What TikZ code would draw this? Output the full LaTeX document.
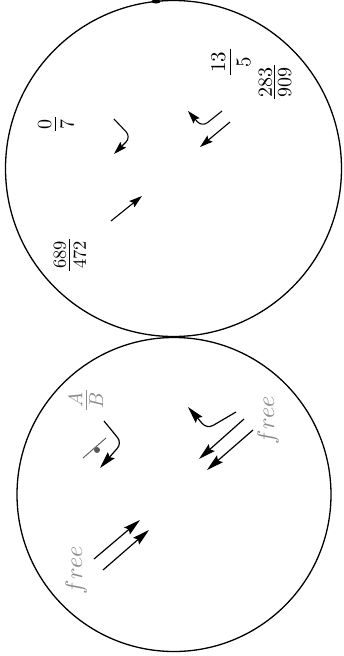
\documentclass[tikz,border=0pt]{standalone}
\usetikzlibrary{arrows.meta}
\renewcommand\arraystretch{0}
\setlength\arrayrulewidth{0.6pt}
\newcommand\stfr[3]{\begin{tabular}{@{\hspace{1pt}}c@{\hspace{1pt}}}\rule[-#1]{0pt}{7pt}#2\\\hline\rule{0pt}{\dimexpr6.6pt+#1\relax}#3\end{tabular}}
\begin{document}
\begin{tikzpicture}[x=1pt,y=-1pt,
  circ/.style={line width=1.3pt},
  arrA/.style={line width=1.1pt,-{Stealth[length=13pt,width=8pt,inset=2pt]}},
  arrB/.style={line width=1.2pt,-{Stealth[length=17pt,width=9pt,inset=2.5pt]}},
  kink/.style={rounded corners=7pt},
  frac/.style={rotate=90,inner sep=0pt},
  lab/.style={rotate=90,inner sep=0pt,text=black!45}]
\useasboundingbox (0,0) rectangle (344,656);
% top circle
\node[circ,draw,circle,minimum size=336pt,inner sep=0pt] (C1) at (173.5,168.5) {};
\fill (156,1.5) ellipse (4.5pt and 2pt);
\node[frac,scale=2.0] (f07) at (56,124) {\stfr{2pt}{0}{7}};
\node[frac,scale=2.1] (f135) at (231,62) {\stfr{2.4pt}{13}{5}};
\node[frac,scale=2.0] (f283) at (275,82) {\stfr{1.2pt}{283}{909}};
\node[frac,scale=1.85] (f689) at (70,255) {\stfr{1.8pt}{689}{472}};
\coordinate (a1s) at (111,221); \coordinate (a1e) at (142,196);
\draw[arrA] (a1s) -- (a1e);
\coordinate (a2s) at (114,119); \coordinate (a2c) at (131,137); \coordinate (a2e) at (114,154);
\draw[arrA,kink] (a2s) -- (a2c) -- (a2e);
\coordinate (a3s) at (222,111); \coordinate (a3c) at (202,127); \coordinate (a3e) at (188,111);
\draw[arrA,kink] (a3s) -- (a3c) -- (a3e);
\coordinate (a4s) at (230,122); \coordinate (a4e) at (200,147);
\draw[arrA] (a4s) -- (a4e);
% bottom circle
\node[circ,draw,circle,minimum size=314pt,inner sep=0pt] (C2) at (174,494.5) {};
\node[lab,scale=2.0] (fAB) at (86,400) {\stfr{1.6pt}{$A$}{$B$}};
\node[lab,scale=2.4] (free1) at (268,420) {$free$};
\node[lab,scale=2.4] (free2) at (76,570) {$free$};
\coordinate (d1) at (83,458); \coordinate (d2) at (106,438);
\draw[line width=0.9pt,black!65] (d1) -- (d2);
\fill[black!65] (97,450) circle (3pt);
\coordinate (b1s) at (104,421); \coordinate (b1c) at (122,443); \coordinate (b1e) at (100,468);
\draw[arrB,kink] (b1s) -- (b1c) -- (b1e);
\coordinate (b2s) at (236,412); \coordinate (b2c) at (207,429); \coordinate (b2e) at (188,407);
\draw[arrB,kink] (b2s) -- (b2c) -- (b2e);
\coordinate (b3s) at (244,419); \coordinate (b3e) at (199,459);
\draw[arrB] (b3s) -- (b3e);
\coordinate (b4s) at (253,430); \coordinate (b4e) at (207,470);
\draw[arrB] (b4s) -- (b4e);
\coordinate (b5s) at (94,559); \coordinate (b5e) at (140,520);
\draw[arrB] (b5s) -- (b5e);
\coordinate (b6s) at (103,570); \coordinate (b6e) at (149,530);
\draw[arrB] (b6s) -- (b6e);
\end{tikzpicture}
\end{document}
